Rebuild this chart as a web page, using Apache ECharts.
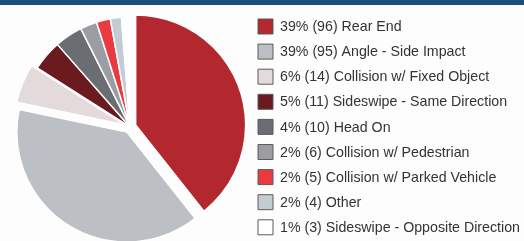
<!DOCTYPE html>
<html><head><meta charset="utf-8">
<script src="https://cdn.jsdelivr.net/npm/echarts@6/dist/echarts.min.js"></script>
<style>html,body{margin:0;padding:0;background:#fff}#c{width:524px;height:241px}</style>
</head><body><div id="c"></div>
<script>
var categories = ["Rear End","Angle - Side Impact","Collision w/ Fixed Object","Sideswipe - Same Direction","Head On","Collision w/ Pedestrian","Collision w/ Parked Vehicle","Other","Sideswipe - Opposite Direction"];
var counts = [96,95,14,11,10,6,5,4,3];
var percents = [39,39,6,5,4,2,2,2,1];
var colors = ["#b3272f","#bcbfc3","#e4dadc","#6b1a20","#6a6d71","#9c9da2","#e93a40","#c3ccd3","#ffffff"];
var exploded = [true,true,true,false,false,false,false,false,false];

var legendX = 258, legendY = 19, legendStep = 25.1, box = 15;
var graphics = [{type:'rect',shape:{x:0,y:0,width:524,height:5},style:{fill:'#1d4d7b'}}];
categories.forEach(function(c,i){
  var y = legendY + i*legendStep;
  graphics.push({type:'rect',shape:{x:legendX,y:y,width:box,height:box},style:{fill:colors[i],stroke:'#5a5a5a',lineWidth:1}});
  graphics.push({type:'text',x:legendX+box+7,y:y+box/2+0.5,scaleX:0.947,
    style:{text:percents[i] + "% (" + counts[i] + ") " + c,fill:'#333',
      font:'15px "Liberation Sans", Arial, sans-serif',verticalAlign:'middle',align:'left'}});
});

var chart = echarts.init(document.getElementById('c'), null, {renderer:'canvas'});
chart.setOption({
  animation:false,
  backgroundColor:'#fdfdfd',
  graphic:graphics,
  series:[{
    type:'pie',
    center:[130,127], radius:[0,110],
    startAngle:90, clockwise:true,
    selectedMode:'multiple', selectedOffset:6,
    label:{show:false}, labelLine:{show:false},
    emphasis:{disabled:true},
    itemStyle:{borderColor:'#ffffff',borderWidth:1.5},
    data:categories.map(function(c,i){
      return {name:c, value:counts[i], selected:exploded[i], itemStyle:{color:colors[i]}};
    })
  }]
});
</script></body></html>
